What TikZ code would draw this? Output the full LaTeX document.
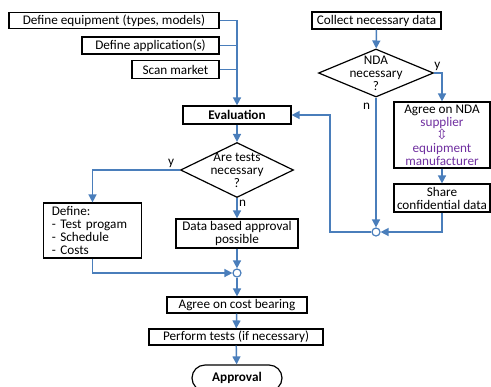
\documentclass[tikz,border=0pt]{standalone}
\usepackage{fontspec}
\setmainfont{Carlito}
\newfontfamily\arrowfont{DejaVu Sans}
\usetikzlibrary{shapes.geometric,shapes.misc,arrows.meta}

\definecolor{flowblue}{HTML}{4A7EBB}
\definecolor{partyviolet}{HTML}{7030A0}

\tikzset{
  task/.style={draw, line width=0.9pt, inner sep=0pt, align=center},
  decision/.style={draw, diamond, line width=0.9pt, inner sep=0pt},
  merge/.style={draw=flowblue, fill=white, circle, line width=0.9pt, minimum size=6pt, inner sep=0pt},
  flow/.style={draw=flowblue, line width=1.1pt, -{Triangle[length=6pt,width=6pt]}},
  feed/.style={draw=flowblue, line width=1.1pt},
  yn/.style={inner sep=1pt}
}

\begin{document}
\begin{tikzpicture}[x=0.75pt, y=-0.75pt, font=\fontsize{9.9}{9.7}\selectfont]
  \useasboundingbox (0,0) rectangle (491,386);

  % inputs on the left
  \node[task, minimum width=157.5pt, minimum height=12pt] (equip) at (114,20.5) {Define equipment (types, models)};
  \node[task, minimum width=102.75pt, minimum height=12.75pt] (appl) at (150.5,45.5) {Define application(s)};
  \node[task, minimum width=65.25pt, minimum height=13.5pt] (scan) at (175.5,69.5) {Scan market};
  \node[task, minimum width=81pt, minimum height=13.5pt] (eval) at (237,115) {\textbf{Evaluation}};

  % data collection branch
  \node[task, minimum width=96.75pt, minimum height=12.75pt] (collect) at (376.5,20.5) {Collect necessary data};
  \node[decision, minimum width=86.25pt, minimum height=36pt] (nda) at (376,73) {};
  \node[align=center] at (nda) {NDA\\necessary\\?};
  \node[task, minimum width=72pt, minimum height=49.5pt] (agree) at (442,135)
    {Agree on NDA\\\textcolor{partyviolet}{supplier}\\
     \textcolor{partyviolet}{\arrowfont\fontsize{10.5}{8}\selectfont ⇳}\\
     \textcolor{partyviolet}{equipment}\\\textcolor{partyviolet}{manufacturer}};
  \node[task, minimum width=72pt, minimum height=21pt] (share) at (442,198) {Share\\confidential data};
  \node[merge] (j1) at (376,232) {};
  \coordinate (back) at (330,170);

  % test branch
  \node[decision, minimum width=84.75pt, minimum height=41.25pt] (tests) at (237,170) {};
  \node[align=center] at (tests) {Are tests\\necessary\\?};
  \node[task, text width=61pt, inner xsep=6.5pt, minimum height=41.25pt, align=left] (define) at (92.5,230.5)
    {Define:\\- Test progam\\- Schedule\\- Costs};
  \node[task, minimum width=91.5pt, minimum height=21.75pt] (databased) at (237,233.5) {Data based approval\\possible};
  \node[merge] (j2) at (237,273) {};
  \node[task, minimum width=105pt, minimum height=12pt] (cost) at (237,305) {Agree on cost bearing};
  \node[task, minimum width=130.5pt, minimum height=12pt] (perform) at (236,337) {Perform tests (if necessary)};
  \node[task, rounded rectangle, minimum width=67.5pt, minimum height=19.5pt] (approval) at (237,378) {\textbf{Approval}};

  % connectors
  \draw[flow] (equip.east) -| (eval.north);
  \draw[feed] (appl.east) -- (appl.east -| eval.north);
  \draw[feed] (scan.east) -- (scan.east -| eval.north);

  \draw[flow] (collect) -- (nda);
  \draw[flow] (nda.east) -| node[yn, pos=0.2, above] {y} (agree.north);
  \draw[flow] (agree) -- (share);
  \draw[flow] (share.south) |- (j1.east);
  \draw[flow] (nda.south) -- node[yn, pos=0.07, left=3pt] {n} (j1.north);
  \draw[flow] (j1.west) -| (back) |- (eval.east);

  \draw[flow] (eval) -- (tests);
  \draw[flow] (tests.west) -| node[yn, pos=0.05, above] {y} (define.north);
  \draw[flow] (tests.south) -- node[yn, pos=0.25, right] {n} (databased.north);
  \draw[flow] (databased) -- (j2);
  \draw[flow] (define.south) |- (j2.west);
  \draw[flow] (j2) -- (cost);
  \draw[flow] (cost) -- (perform);
  \draw[flow] (perform) -- (approval);
\end{tikzpicture}
\end{document}
